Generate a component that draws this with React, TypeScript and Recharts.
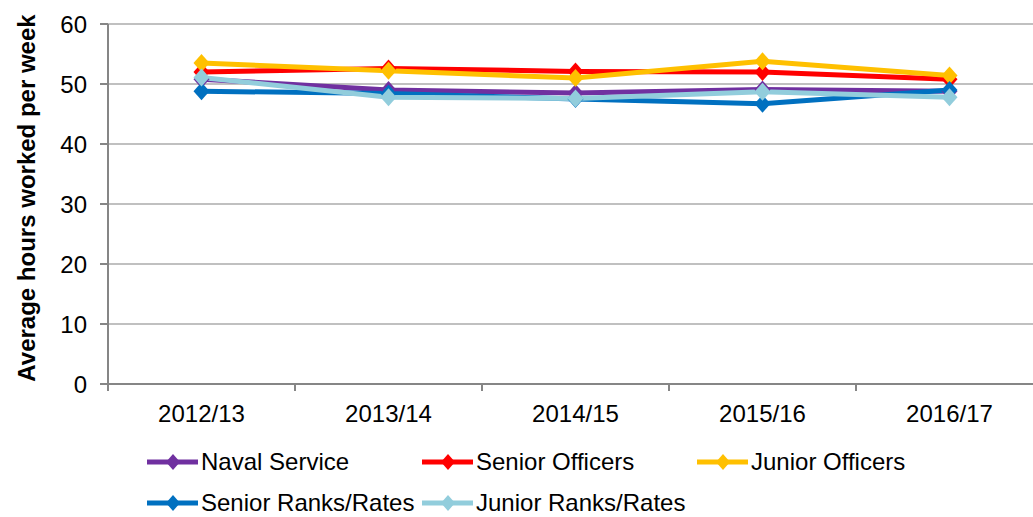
import React from "react";
import { LineChart, Line, XAxis, YAxis, CartesianGrid } from "recharts";

const categories = ["2012/13", "2013/14", "2014/15", "2015/16", "2016/17"];
const navalService = [50.8, 49.0, 48.5, 49.1, 48.8];
const seniorOfficers = [52.0, 52.6, 52.1, 52.0, 50.8];
const juniorOfficers = [53.5, 52.2, 51.0, 53.8, 51.4];
const seniorRanks = [48.8, 48.4, 47.5, 46.7, 49.0];
const juniorRanks = [51.1, 47.8, 47.6, 48.7, 47.8];
const yTicks = [0, 10, 20, 30, 40, 50, 60];

const series = [
  { key: "naval", name: "Naval Service", color: "#7030A0", values: navalService },
  { key: "seniorOff", name: "Senior Officers", color: "#FF0000", values: seniorOfficers },
  { key: "juniorOff", name: "Junior Officers", color: "#FFC000", values: juniorOfficers },
  { key: "seniorRanks", name: "Senior Ranks/Rates", color: "#0070C0", values: seniorRanks },
  { key: "juniorRanks", name: "Junior Ranks/Rates", color: "#92CDDC", values: juniorRanks },
];

const chartData = categories.map((c, i) => {
  const row: Record<string, string | number> = { label: c };
  series.forEach((s) => {
    row[s.key] = s.values[i];
  });
  return row;
});

const FONT = '"Liberation Sans", Arial, sans-serif';
const AXIS = "#868686";
const HALF_BAND = 93.5;
const X_TICK_GAP = 21; // tickSize + tickMargin

// diamond marker
function Diamond({ cx, cy, fill }: { cx?: number; cy?: number; fill: string }) {
  if (cx == null || cy == null) return null;
  const w = 8;
  const h = 9;
  return (
    <polygon
      points={`${cx},${cy - h} ${cx + w},${cy} ${cx},${cy + h} ${cx - w},${cy}`}
      fill={fill}
    />
  );
}

// category label plus Excel-style tick marks between categories
function XTick(props: any) {
  const { x, y, payload, index } = props;
  const axisY = y - X_TICK_GAP;
  const last = index === categories.length - 1;
  return (
    <g>
      <line x1={x - HALF_BAND} y1={axisY} x2={x - HALF_BAND} y2={axisY + 7} stroke={AXIS} strokeWidth={2} />
      {last && (
        <line x1={x + HALF_BAND} y1={axisY} x2={x + HALF_BAND} y2={axisY + 7} stroke={AXIS} strokeWidth={2} />
      )}
      <text x={x} y={y} dy="0.71em" textAnchor="middle" fontFamily={FONT} fontSize={24} fill="#000">
        {payload.value}
      </text>
    </g>
  );
}

function YTitle() {
  return (
    <text
      x={35}
      y={198}
      transform="rotate(-90 35 198)"
      textAnchor="middle"
      fontFamily={FONT}
      fontSize={24}
      fontWeight="bold"
      fill="#000"
    >
      Average hours worked per week
    </text>
  );
}

function LegendItem({ name, color }: { name: string; color: string }) {
  return (
    <div style={{ display: "flex", alignItems: "center", width: 275, height: 30 }}>
      <svg width={54} height={20} style={{ flex: "none" }}>
        <line x1={0} y1={10} x2={51} y2={10} stroke={color} strokeWidth={5} />
        <polygon points="26,2 33,10 26,18 19,10" fill={color} />
      </svg>
      <span style={{ fontFamily: FONT, fontSize: 24, color: "#000", whiteSpace: "nowrap" }}>
        {name}
      </span>
    </div>
  );
}

export default function App() {
  return (
    <div
      style={{
        position: "fixed",
        left: 0,
        top: 0,
        width: 1033,
        height: 517,
        overflow: "hidden",
        background: "#fff",
      }}
    >
      <LineChart
        width={1043}
        height={517}
        data={chartData}
        margin={{ top: 24, right: 0, left: 0, bottom: 73 }}
      >
        <CartesianGrid vertical={false} stroke="#c0c0c0" strokeWidth={2} />
        <XAxis
          dataKey="label"
          height={60}
          axisLine={{ stroke: AXIS, strokeWidth: 2 }}
          tickLine={false}
          tickSize={6}
          tickMargin={15}
          padding={{ left: HALF_BAND, right: HALF_BAND }}
          tick={<XTick />}
          interval={0}
        />
        <YAxis
          width={108}
          domain={[0, 60]}
          ticks={yTicks}
          tickSize={8}
          tickMargin={13}
          axisLine={{ stroke: AXIS, strokeWidth: 2 }}
          tickLine={{ stroke: AXIS, strokeWidth: 2 }}
          tick={{ fontFamily: FONT, fontSize: 24, fill: "#000" }}
          label={{ content: () => <YTitle /> }}
        />
        {series.map((s) => (
          <Line
            key={s.key}
            dataKey={s.key}
            name={s.name}
            stroke={s.color}
            strokeWidth={5}
            dot={(p: any) => <Diamond key={`${s.key}-${p.index}`} cx={p.cx} cy={p.cy} fill={s.color} />}
            activeDot={false}
            isAnimationActive={false}
          />
        ))}
      </LineChart>
      <div style={{ position: "absolute", left: 147, top: 447, width: 880, display: "flex", flexWrap: "wrap", rowGap: 11 }}>
        {series.map((s) => (
          <LegendItem key={s.key} name={s.name} color={s.color} />
        ))}
      </div>
    </div>
  );
}
